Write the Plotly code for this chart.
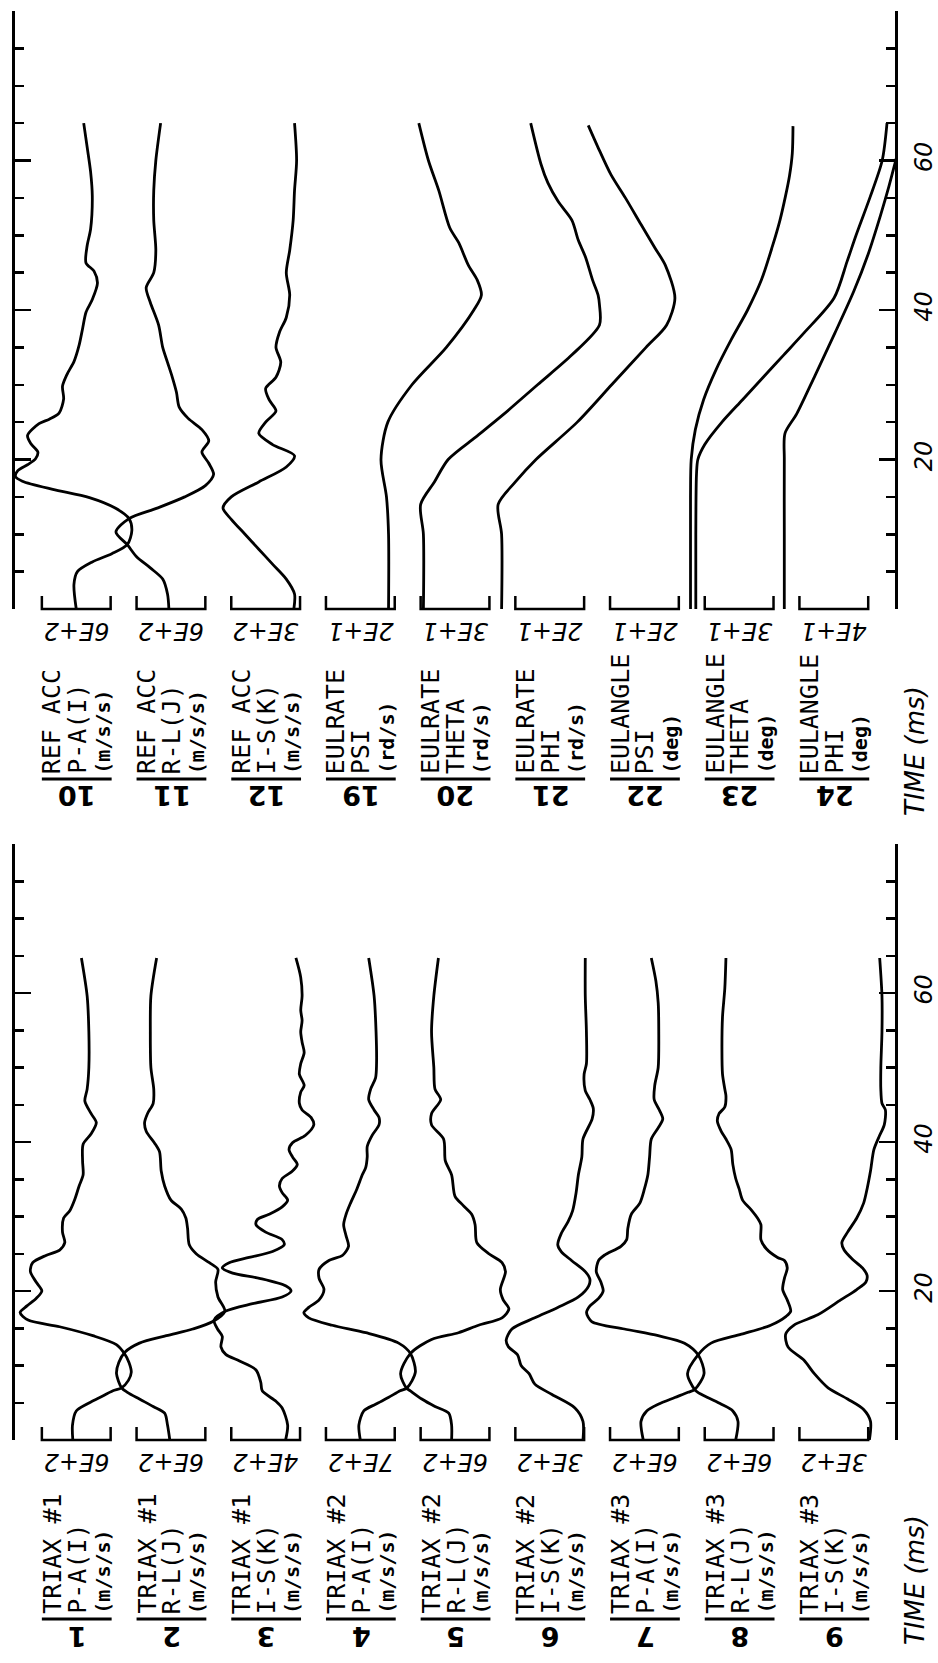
import plotly.graph_objects as go

# ======================= DATA (time in ms, values in channel units) =======================
# ---- bottom panel : channels 1-9 ----
T01 = [0,2,3.9,4.8,5.7,6.6,7.0,8.0,9.1,10.4,11.6,12.8,14.0,15.2,16.1,17.1,18.0,19.0,20.0,21.2,22.6,23.8,24.8,25.5,26.5,27.9,29.8,30.8,32.2,34.1,35.6,37.5,39.7,41.1,42.6,43.8,45.5,47.1,50.0,54.8,59.6,64.7]
V01 = [-30,-33,0,90,205,320,395,455,480,460,420,350,145,-145,-420,-490,-430,-350,-300,-350,-400,-380,-260,-145,-100,-120,-110,-55,-15,25,60,55,60,130,175,130,75,95,110,110,95,45]

T02 = [0,2.0,3.6,4.5,5.5,6.4,7.0,8.9,10.4,11.8,13.0,14.0,14.9,15.9,17.3,19.2,21.2,22.9,23.8,25.0,26.2,28.4,29.8,31.0,32.2,34.1,36.1,38.7,39.9,41.4,42.6,43.8,45.2,47.1,50.0,54.8,59.6,64.7]
V02 = [-10,-30,-55,-155,-275,-380,-430,-475,-455,-400,-275,-40,190,365,470,410,390,410,335,220,160,145,130,90,0,-55,-85,-100,-145,-215,-230,-205,-155,-150,-175,-180,-175,-125]

T03 = [0,2.0,4.3,5.2,6.6,7.7,9.4,10.6,11.5,12.5,13.9,14.9,16.1,17.3,18.3,19.2,20.0,20.7,21.7,22.4,23.1,23.8,24.5,25.3,26.2,26.9,27.9,28.9,29.6,30.3,31.3,32.2,33.2,34.1,35.1,36.1,37.0,38.0,39.0,39.9,40.9,42.3,43.3,44.3,45.2,46.7,47.6,49.1,50.5,52.0,53.4,54.8,56.3,57.7,59.6,62.1,64.7]
V03 = [116,128,96,60,-20,-28,-56,-152,-232,-260,-252,-280,-300,-232,-76,96,148,116,-36,-192,-252,-212,-96,40,108,96,0,-56,-48,20,96,128,96,80,96,156,184,156,136,156,232,280,264,212,196,204,224,196,204,224,212,204,212,204,212,204,176]

T04 = [0,2,3.9,4.8,5.7,6.6,7.0,9.1,11.6,13.0,14.4,15.4,16.4,17.1,17.8,18.8,20.2,21.7,22.9,24.1,24.8,26.0,27.4,28.9,30.3,31.8,33.7,35.6,36.6,38.0,39.4,40.9,42.3,43.3,44.3,45.7,47.1,48.6,50.5,54.8,59.6,64.7]
V04 = [0,-15,35,155,285,405,475,560,510,390,55,-285,-525,-575,-525,-420,-370,-420,-420,-320,-180,-120,-145,-170,-145,-100,-35,20,55,70,70,120,190,190,140,85,105,155,165,160,140,85]

T05 = [0,2,3.6,4.5,5.5,6.6,7.0,8.9,11.6,13.5,14.4,15.4,16.4,17.6,18.8,20.2,22.6,23.8,25.0,26.5,28.9,30.3,31.5,32.7,35.6,37.5,40.4,42.3,43.8,45.7,47.1,50.0,54.8,59.6,64.7]
V05 = [-30,-30,-55,-175,-290,-390,-425,-475,-390,-205,30,205,410,470,420,395,440,410,295,190,175,145,70,0,-30,-85,-100,-205,-205,-125,-175,-185,-205,-185,-145]

T06 = [0,2.5,4.3,6.1,7.5,8.9,10.0,11.4,12.5,13.4,14.9,16.4,17.8,19.2,20.7,21.6,22.6,24.1,25.3,26.2,27.7,29.3,30.8,33.2,35.6,38.0,40.4,43.1,44.5,45.7,46.9,49.1,50.5,54.8,59.6,64.7]
V06 = [145,145,110,10,-65,-90,-125,-140,-180,-190,-165,-65,35,125,170,175,155,95,50,35,50,80,100,115,125,140,145,185,190,175,155,150,160,160,155,155]

T07 = [0,2.5,3.9,4.8,5.7,6.4,6.8,8.9,11.4,13.0,14.0,14.9,15.9,17.1,18.0,19.0,20.0,21.2,22.6,24.1,24.8,26.0,26.9,28.4,30.3,31.8,33.7,35.6,38.0,40.4,41.9,43.1,44.3,45.7,47.6,50.0,54.8,58.7,61.6,64.7]
V07 = [-10,-30,20,120,265,380,440,520,470,350,120,-175,-460,-505,-475,-400,-360,-380,-420,-400,-350,-205,-155,-145,-115,-40,0,30,45,60,120,160,130,85,90,120,125,120,100,60]

T08 = [0,2.5,3.9,4.8,5.7,6.4,6.8,8.9,11.4,13.0,14.2,15.4,16.6,17.3,18.8,20.2,21.7,23.1,24.1,24.5,25.7,26.9,28.9,29.8,31.0,32.2,33.7,35.1,37.0,39.0,40.4,41.4,42.8,43.8,44.7,46.2,47.1,49.1,52.4,56.8,60.6,64.7]
V08 = [-30,-10,-55,-155,-275,-360,-390,-450,-360,-245,20,275,410,450,420,380,395,420,395,335,235,190,190,160,100,30,0,-30,-55,-70,-115,-155,-190,-175,-125,-115,-125,-145,-150,-145,-125,-115]

T09 = [0,2.5,4.1,5.5,7.0,8.9,10.7,12.5,14.2,15.4,16.8,18.8,20.2,21.2,22.1,23.1,24.3,25.5,26.5,27.9,29.8,31.8,33.7,36.1,39.0,40.9,42.3,44.3,45.2,47.1,50.0,54.8,59.6,64.7]
V09 = [155,160,130,60,-25,-85,-130,-200,-210,-175,-70,30,100,140,145,125,80,45,35,60,100,130,145,160,175,200,220,225,210,205,205,210,210,200]

# ---- top panel : channels 10-12, 19-24 ----
T10 = [0,3.3,5.0,6.3,7.4,8.6,10.5,12.1,13.5,14.9,16.0,17.1,17.7,18.5,19.3,20.1,21.0,22.1,23.2,24.8,25.4,26.2,28.1,29.8,31.4,33.1,35.3,37.5,39.7,41.4,43.6,45.2,46.3,48.6,50.8,55.2,58.5,61.8,65.0]
V10 = [0,-20,10,140,310,445,485,460,340,115,-205,-470,-530,-510,-425,-355,-335,-395,-425,-325,-235,-150,-110,-120,-80,-20,25,55,85,140,185,155,85,95,125,140,125,95,65]

T11 = [0,2,4,5.5,7,8.6,10.3,12.1,13.5,15,16.5,18,19.5,21,22.5,24,25.5,27,29,31,33,35,38,41,43,45,48,52,56,60,65]
V11 = [-18,-30,-72,-180,-300,-381,-480,-366,-120,120,300,372,330,270,330,270,150,72,48,12,-30,-72,-108,-180,-216,-150,-132,-150,-150,-132,-90]

T12 = [0,2,4,6,8,10,12,13.5,15,17,19,20.5,22,23.5,25,26.5,28,29.5,31,33,35,37,39,42,45,48,52,56,60,65]
V12 = [123,126,90,30,-30,-90,-150,-186,-150,-30,90,126,30,-30,0,45,15,0,45,66,45,60,90,105,90,105,120,126,135,126]

T19 = [0,10,15,20,25,30,35,40,42,44,46,49,51,56,60,65]
V19 = [8.2,8.2,7.6,6,8,15,25,33,35.2,34,31.4,28.6,26,22.8,19.8,17]

T20 = [0,10,14,17,20,23,26,30,34,38,40.7,42,44,47,49.4,52,54.5,57,59.5,65]
V20 = [-13.8,-13.8,-15,-9,-3,9,21,36,51,63,63,62.4,60,57,53.7,51,45,40.5,37.5,33]

T21 = [0,10,14,17,20,25,30,35,38,41.6,46,48.3,51.4,55,58.1,61.8,64.7]
V21 = [-14,-14,-15,-10,-4,8,18,28,34,36.4,33.6,30.6,26.6,22,17.8,14,11.2]

T22 = [0,15,20,24,28,32,36,40,44,48.5,52,55.2,58,61,64.6]
V22 = [13.4,13.4,13.6,14.8,17.2,20.8,25.2,30,34,37.2,39.4,41,42.2,43,43.2]

T23 = [0,10,18,20,22,25,28,31,34,37,41.6,46.5,50,55,60,65]
V23 = [-18.9,-18.9,-18.6,-18,-15,-7.5,1.5,10.5,19.5,28.5,41.4,47.1,51,57,62.4,64.5]

T24 = [0,10,20,23.5,26.1,31.3,36.9,42.5,47.5,52.7,56.5,60,62.5,65]
V24 = [-28.8,-28.8,-28.8,-28.4,-21.6,-10.8,0.6,11.6,20,27.2,32,36,38.8,41.2]

# ---- channel labels and scales ----
BOT_NUM = ["1", "2", "3", "4", "5", "6", "7", "8", "9"]
BOT_L1 = ["TRIAX #1"] * 3 + ["TRIAX #2"] * 3 + ["TRIAX #3"] * 3
BOT_L2 = ["P-A(I)", "R-L(J)", "I-S(K)"] * 3
BOT_L3 = ["(m/s/s)"] * 9
BOT_SCALE = [600, 600, 400, 700, 600, 300, 600, 600, 300]
BOT_SCALE_TXT = ["6E+2", "6E+2", "4E+2", "7E+2", "6E+2", "3E+2", "6E+2", "6E+2", "3E+2"]

TOP_NUM = ["10", "11", "12", "19", "20", "21", "22", "23", "24"]
TOP_L1 = ["REF ACC"] * 3 + ["EULRATE"] * 3 + ["EULANGLE"] * 3
TOP_L2 = ["P-A(I)", "R-L(J)", "I-S(K)", "PSI", "THETA", "PHI", "PSI", "THETA", "PHI"]
TOP_L3 = ["(m/s/s)"] * 3 + ["(rd/s)"] * 3 + ["(deg)"] * 3
TOP_SCALE = [600, 600, 300, 20, 30, 20, 20, 30, 40]
TOP_SCALE_TXT = ["6E+2", "6E+2", "3E+2", "2E+1", "3E+1", "2E+1", "2E+1", "3E+1", "4E+1"]

TIME_TICKS = [0, 20, 40, 60, 80]
TIME_TICK_TXT = ["", "20", "40", "60", ""]
TIME_TITLE = "TIME (ms)"

# ======================= GEOMETRY / STYLE =======================
W, H = 938, 1663
XL, XR = 15, 898                 # the two time-axis lines (px)
C0, DC, BW = 76.5, 95.0, 69.0    # first channel centre, channel pitch, scale-bar width (px)
U = BW / DC                      # full scale in channel units
INK = "black"

F_LINE = dict(family="DejaVu Sans Mono", size=25, color=INK)
F_UNIT = dict(family="DejaVu Sans Mono", size=20, color=INK, weight="bold")
F_NUM = dict(family="DejaVu Sans", size=27, color=INK, weight="bold")
F_SCALE = dict(family="DejaVu Sans", size=24, color=INK, style="italic")
F_TICK = dict(family="DejaVu Sans", size=24, color=INK, style="italic")
F_TITLE = dict(family="DejaVu Sans", size=26, color=INK, style="italic")

PANELS = [
    dict(top=11, foot=609, pix0=0, pix1=831, xa="x", ya="y", yd="y3",
         off_bar=170, off_num=187, off_title=142,
         T=[T10, T11, T12, T19, T20, T21, T22, T23, T24],
         V=[V10, V11, V12, V19, V20, V21, V22, V23, V24],
         scale=TOP_SCALE, scale_txt=TOP_SCALE_TXT, num=TOP_NUM,
         l1=TOP_L1, l2=TOP_L2, l3=TOP_L3),
    dict(top=844, foot=1440, pix0=831, pix1=H, xa="x2", ya="y2", yd="y4",
         off_bar=179, off_num=197, off_title=140,
         T=[T01, T02, T03, T04, T05, T06, T07, T08, T09],
         V=[V01, V02, V03, V04, V05, V06, V07, V08, V09],
         scale=BOT_SCALE, scale_txt=BOT_SCALE_TXT, num=BOT_NUM,
         l1=BOT_L1, l2=BOT_L2, l3=BOT_L3),
]


def py(p):
    return 1 - p / H


def key(a):
    return ("xaxis" if a[0] == "x" else "yaxis") + a[1:]


fig = go.Figure()
layout = dict(width=W, height=H, margin=dict(l=0, r=0, t=0, b=0, pad=0),
              paper_bgcolor="white", plot_bgcolor="rgba(0,0,0,0)",
              showlegend=False, annotations=[])

for p in PANELS:
    kms = 80.0 / (p["foot"] - p["top"])       # ms per pixel
    layout[key(p["xa"])] = dict(domain=[XL / W, XR / W],
                                range=[(XL - C0) / DC, (XR - C0) / DC],
                                visible=False, anchor=p["ya"], fixedrange=True)
    layout[key(p["ya"])] = dict(
        domain=[py(p["foot"]), py(p["top"])], range=[0, 80], anchor=p["xa"],
        side="right", showline=True, linecolor=INK, linewidth=2.5, mirror="ticks",
        ticks="inside", ticklen=16, tickwidth=2.5, tickcolor=INK,
        tickmode="array", tickvals=TIME_TICKS, ticktext=TIME_TICK_TXT,
        tickangle=-90, tickfont=F_TICK, ticklabelstandoff=6,
        showgrid=False, zeroline=False, fixedrange=True,
        minor=dict(dtick=5, tick0=0, ticks="inside", ticklen=9, tickwidth=2.5,
                   tickcolor=INK, showgrid=False))
    layout[key(p["yd"])] = dict(
        domain=[py(p["pix1"]), py(p["pix0"])],
        range=[(p["foot"] - p["pix1"]) * kms, (p["foot"] - p["pix0"]) * kms],
        anchor=p["xa"], visible=False, fixedrange=True)

    hb = 13 * kms                 # height of scale-bar end ticks
    y_bar = -p["off_bar"] * kms   # label bar
    y_num = -p["off_num"] * kms   # channel number
    y_sc = -22 * kms              # scale text
    for k in range(9):
        S = p["scale"][k]
        # recorded signal, drawn on the panel's time axis
        fig.add_trace(go.Scatter(
            x=[k + v / S * U for v in p["V"][k]], y=p["T"][k], mode="lines",
            line=dict(color=INK, width=2.8, shape="spline", smoothing=0.8),
            xaxis=p["xa"], yaxis=p["ya"], hoverinfo="skip"))
        # scale bar |____|
        fig.add_trace(go.Scatter(
            x=[k - U / 2, k - U / 2, k + U / 2, k + U / 2], y=[hb, 0, 0, hb],
            mode="lines", line=dict(color=INK, width=2.5),
            xaxis=p["xa"], yaxis=p["yd"], hoverinfo="skip"))
        left = k - U / 2
        fig.add_trace(go.Scatter(
            x=[left, left + 70 / DC], y=[y_bar, y_bar], mode="lines",
            line=dict(color=INK, width=3), xaxis=p["xa"], yaxis=p["yd"],
            hoverinfo="skip"))
        A = layout["annotations"]
        A.append(dict(x=k, y=y_sc, xref=p["xa"], yref=p["yd"], text=p["scale_txt"][k],
                      textangle=180, showarrow=False, font=F_SCALE,
                      xanchor="center", yanchor="middle"))
        for off, txt, fnt in ((10, p["l1"][k], F_LINE), (35, p["l2"][k], F_LINE),
                              (61, p["l3"][k], F_UNIT)):
            A.append(dict(x=left + off / DC, y=y_bar + 3 * kms, xref=p["xa"], yref=p["yd"],
                          text=txt, textangle=-90, showarrow=False, font=fnt,
                          xanchor="center", yanchor="bottom"))
        A.append(dict(x=left + 35 / DC, y=y_num, xref=p["xa"], yref=p["yd"],
                      text=p["num"][k], textangle=180, showarrow=False, font=F_NUM,
                      xanchor="center", yanchor="middle"))
    layout["annotations"].append(dict(
        x=918 / W, y=py(p["foot"] + p["off_title"]), xref="paper", yref="paper",
        text=TIME_TITLE, textangle=-90, showarrow=False, font=F_TITLE,
        xanchor="center", yanchor="middle"))

fig.update_layout(**layout)
fig.write_html("out.html", config={"displayModeBar": False, "staticPlot": True},
               post_script="document.body.style.margin='0';document.body.style.overflow='hidden';")
